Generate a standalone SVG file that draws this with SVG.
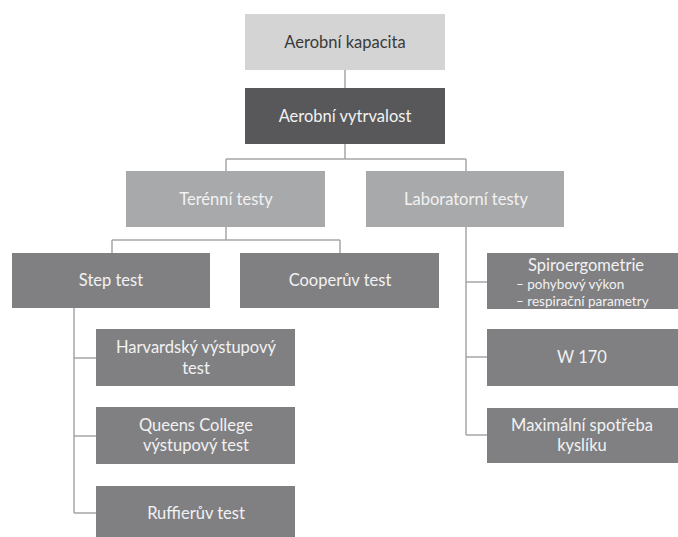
<svg xmlns="http://www.w3.org/2000/svg" width="678" height="537" viewBox="0 0 678 537">
<style>
text{font-family:Lato,"Open Sans","Liberation Sans",sans-serif;font-size:16.5px;text-anchor:middle;fill:#f2f2f2}
.l1 rect{fill:#d4d4d4}
.l1 text{fill:#3a3a3a}
.l2 rect{fill:#58585a}
.l3 rect{fill:#a8a9ab}
.l4 rect{fill:#808083}
.sub{font-size:13.5px;text-anchor:start}
.conn path{fill:none;stroke:#a6a6a6;stroke-width:1.5}
</style>
<rect width="678" height="537" fill="#fff"/>
<g class="conn">
<path d="M345 70V88"/>
<path d="M345 144V159M226 159H466M226 159V171M466 159V171"/>
<path d="M226 227V240M112 240H340M112 240V253M340 240V253"/>
<path d="M74 308V513M74 358H96M74 436H96M74 513H96"/>
<path d="M466 227V435M466 282H487M466 357H487M466 435H487"/>
</g>
<g id="aerobni-kapacita" class="l1"><rect x="245" y="14" width="200" height="56"/><text x="345" y="47.5">Aerobní kapacita</text></g>
<g id="aerobni-vytrvalost" class="l2"><rect x="245" y="88" width="200" height="56"/><text x="345" y="121.5">Aerobní vytrvalost</text></g>
<g id="terenni-testy" class="l3"><rect x="126" y="171" width="199" height="56"/><text x="226" y="204.5">Terénní testy</text></g>
<g id="laboratorni-testy" class="l3"><rect x="366" y="171" width="198" height="56"/><text x="466" y="204.5">Laboratorní testy</text></g>
<g id="step-test" class="l4"><rect x="12" y="253" width="198" height="55"/><text x="111" y="286">Step test</text></g>
<g id="cooperuv-test" class="l4"><rect x="240" y="253" width="199" height="55"/><text x="340" y="286">Cooperův test</text></g>
<g id="harvardsky" class="l4"><rect x="96" y="329" width="199" height="57"/><text x="196" y="353">Harvardský výstupový</text><text x="196" y="373.5">test</text></g>
<g id="queens" class="l4"><rect x="96" y="407" width="199" height="57"/><text x="196" y="431">Queens College</text><text x="196" y="451">výstupový test</text></g>
<g id="ruffieruv" class="l4"><rect x="96" y="486" width="199" height="56"/><text x="196" y="518.5">Ruffierův test</text></g>
<g id="spiroergometrie" class="l4"><rect x="487" y="253" width="191" height="56"/><text x="586" y="271">Spiroergometrie</text><text class="sub" x="516" y="288.5">– pohybový výkon</text><text class="sub" x="516" y="305.5">– respirační parametry</text></g>
<g id="w170" class="l4"><rect x="487" y="329" width="191" height="57"/><text x="582" y="363">W 170</text></g>
<g id="max-spotreba" class="l4"><rect x="487" y="408" width="191" height="55"/><text x="582" y="431">Maximální spotřeba</text><text x="582" y="451">kyslíku</text></g>
</svg>
